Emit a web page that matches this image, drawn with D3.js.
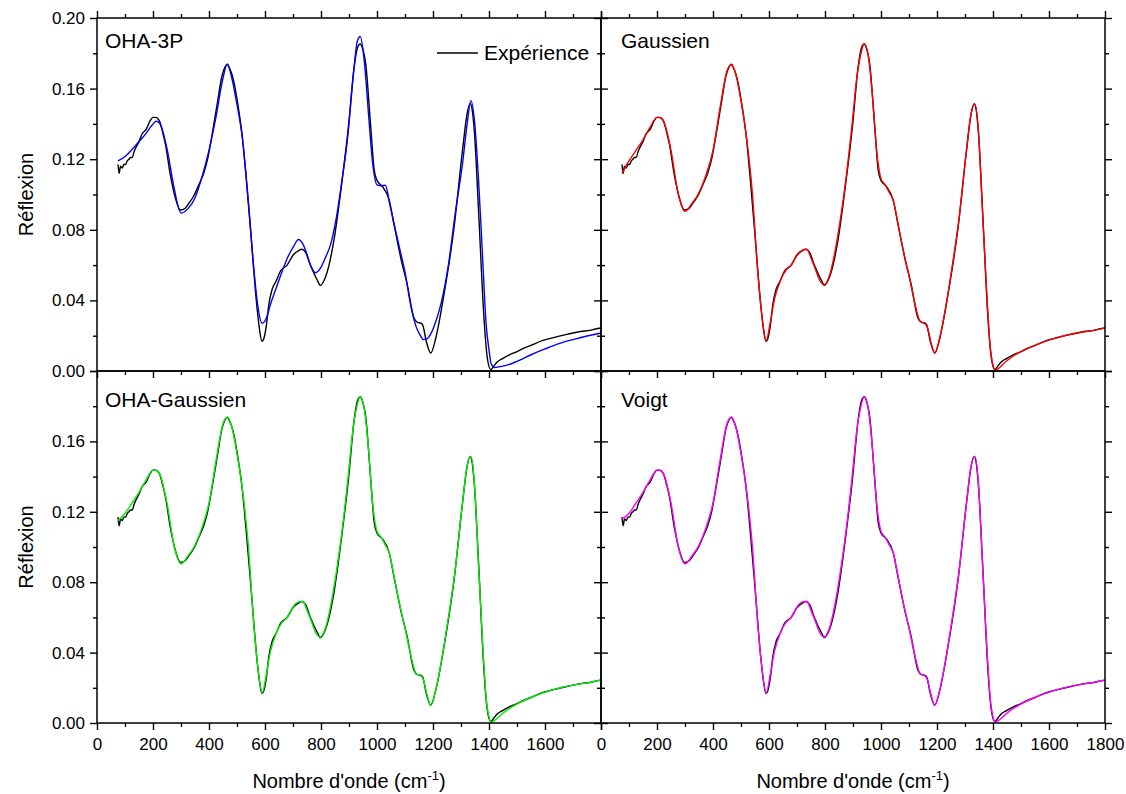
<!DOCTYPE html>
<html>
<head>
<meta charset="utf-8">
<script src="https://cdn.jsdelivr.net/npm/d3@7"></script>
<style>
  body { margin: 0; background: #fff; }
  text { font-family: "Liberation Sans", Arial, sans-serif; fill: #000; }
  .tick line { stroke: #000; stroke-width: 1.4px; }
</style>
</head>
<body>
<div id="chart-area"></div>
<script>
// experimental spectrum (black)
var expWn = [75,79,84,90,96,102,108,114,120,126,132,140,150,160,176,190,200,210,222,235,
  245,262,280,298,315,330,345,365,381,395,410,429,446,458,466,472,480,490,502,518,
  533,550,569,580,589,597,605,614,625,640,655,679,702,718,732,745,762,786,798,810,
  821,845,875,899,918,930,940,948,960,977,990,1000,1019,1043,1061,1085,1108,1132,1145,1155,
  1163,1176,1192,1210,1239,1275,1305,1322,1333,1340,1348,1364,1382,1394,1406,1418,1430,1450,1471,1500,
  1519,1550,1590,1620,1674,1700,1733,1760,1780,1800];
var expR = [0.117,0.112,0.116,0.115,0.117,0.117,0.119,0.120,0.121,0.121,0.124,0.127,0.130,0.134,0.137,0.1418,0.1437,0.1437,0.142,0.135,
  0.128,0.111,0.098,0.0912,0.0922,0.0955,0.099,0.106,0.112,0.120,0.133,0.151,0.167,0.1725,0.1738,0.172,0.169,0.163,0.152,0.134,
  0.109,0.077,0.040,0.024,0.0168,0.019,0.026,0.038,0.046,0.051,0.0565,0.060,0.066,0.068,0.069,0.0672,0.060,0.0517,0.0485,0.051,
  0.0555,0.0730,0.1075,0.1400,0.1717,0.183,0.1853,0.183,0.1736,0.1396,0.114,0.108,0.1046,0.0971,0.0829,0.064,0.0489,0.030,0.0275,0.0272,
  0.0262,0.0168,0.0102,0.0187,0.0432,0.081,0.1245,0.146,0.1515,0.148,0.135,0.0867,0.030,0.0074,0.0008,0.003,0.0052,0.0072,0.0090,0.0110,
  0.0125,0.0145,0.0172,0.0185,0.0206,0.0215,0.0225,0.0230,0.0238,0.0244];

// fitted spectra, common wavenumber grid
var fitWn = [75,100,125,150,175,200,212,225,250,275,
  300,325,350,375,400,425,450,465,480,500,
  520,540,560,575,590,605,620,640,660,680,
  700,720,735,750,765,780,797,815,835,855,
  875,895,915,930,940,955,970,985,1000,1015,
  1030,1045,1060,1080,1100,1120,1140,1155,1165,1178,
  1192,1210,1230,1255,1280,1305,1322,1335,1348,1362,
  1376,1390,1400,1408,1420,1440,1470,1500,1550,1600,
  1650,1700,1750,1800];

var oha3pR = [0.119,0.1215,0.1255,0.130,0.1345,0.140,0.1415,0.140,0.126,0.104,
  0.0895,0.092,0.098,0.110,0.125,0.144,0.166,0.1738,0.167,0.151,
  0.131,0.097,0.058,0.036,0.027,0.030,0.038,0.047,0.056,0.064,
  0.070,0.0745,0.072,0.066,0.059,0.0557,0.058,0.064,0.072,0.087,
  0.108,0.132,0.167,0.187,0.1895,0.175,0.145,0.117,0.1055,0.105,
  0.1052,0.095,0.084,0.070,0.056,0.0376,0.025,0.020,0.0178,0.0182,
  0.021,0.028,0.039,0.060,0.090,0.117,0.140,0.1532,0.142,0.110,
  0.068,0.026,0.012,0.004,0.002,0.0025,0.0036,0.0055,0.0092,0.0125,
  0.0155,0.0178,0.0198,0.0215];

var gaussR = [0.112,0.119,0.125,0.131,0.138,0.1437,0.1435,0.141,0.125,0.101,
  0.0905,0.095,0.101,0.111,0.125,0.149,0.170,0.1735,0.169,0.153,
  0.132,0.102,0.056,0.031,0.0172,0.028,0.041,0.051,0.057,0.060,
  0.066,0.0685,0.069,0.064,0.058,0.0517,0.0489,0.0535,0.067,0.086,
  0.109,0.137,0.168,0.181,0.1855,0.178,0.155,0.124,0.109,0.1055,
  0.101,0.096,0.084,0.068,0.054,0.039,0.028,0.027,0.025,0.0165,
  0.0102,0.0187,0.035,0.060,0.088,0.1245,0.146,0.1512,0.136,0.092,
  0.049,0.014,0.0035,0.0005,0.0015,0.0045,0.0082,0.0110,0.0145,0.0175,
  0.0198,0.0215,0.0228,0.0243];

var ohaGaussR = [0.115,0.119,0.125,0.131,0.138,0.1437,0.1435,0.141,0.125,0.101,
  0.0905,0.095,0.101,0.111,0.125,0.149,0.170,0.1738,0.169,0.153,
  0.132,0.102,0.056,0.031,0.0170,0.028,0.041,0.051,0.057,0.060,
  0.066,0.0688,0.069,0.064,0.058,0.0517,0.0489,0.0535,0.067,0.086,
  0.109,0.137,0.168,0.181,0.1855,0.178,0.155,0.124,0.109,0.1055,
  0.101,0.096,0.084,0.068,0.054,0.039,0.028,0.027,0.025,0.0165,
  0.0100,0.0187,0.035,0.060,0.088,0.1245,0.146,0.1515,0.136,0.092,
  0.049,0.014,0.0035,0.0005,0.0015,0.0042,0.0080,0.0108,0.0145,0.0175,
  0.0198,0.0215,0.0228,0.0243];

var voigtR = [0.116,0.119,0.125,0.131,0.138,0.1437,0.1435,0.141,0.125,0.101,
  0.0905,0.095,0.101,0.111,0.125,0.149,0.170,0.1738,0.169,0.153,
  0.132,0.102,0.056,0.031,0.0170,0.028,0.041,0.051,0.057,0.060,
  0.066,0.0688,0.069,0.064,0.058,0.0517,0.0489,0.0535,0.067,0.086,
  0.109,0.137,0.168,0.181,0.1855,0.178,0.155,0.124,0.109,0.1055,
  0.101,0.096,0.084,0.068,0.054,0.039,0.028,0.027,0.025,0.0165,
  0.0100,0.0187,0.035,0.060,0.088,0.1245,0.146,0.1515,0.136,0.092,
  0.049,0.014,0.0035,0.0005,0.0015,0.0042,0.0080,0.0108,0.0145,0.0175,
  0.0198,0.0215,0.0228,0.0243];

var panelNames = ["OHA-3P", "Gaussien", "OHA-Gaussien", "Voigt"];
var panelFits = [oha3pR, gaussR, ohaGaussR, voigtR];
var panelColors = ["#0000ff", "#ff0000", "#00ee00", "#ff00ff"];

var xMajor = [0,200,400,600,800,1000,1200,1400,1600,1800];
var xMinor = [100,300,500,700,900,1100,1300,1500,1700];
var yMajor = [0,0.04,0.08,0.12,0.16,0.20];
var yMinor = [0.02,0.06,0.10,0.14,0.18];

var cols = [[97,601],[601,1105]];
var rows = [[18,371],[371,723]];

var svg = d3.select("#chart-area").append("svg")
  .attr("width", 1126).attr("height", 794);
svg.append("rect").attr("width", 1126).attr("height", 794).attr("fill", "#fff");

var fmtY = d3.format(".2f");

function drawAxis(g, axisFn, scale, transform, majors, minors, fmt) {
  var big = axisFn(scale).tickValues(majors).tickSize(7).tickSizeOuter(0)
    .tickPadding(axisFn === d3.axisBottom ? 8 : 5)
    .tickFormat(fmt || "");
  var small = axisFn(scale).tickValues(minors).tickSize(4).tickSizeOuter(0).tickFormat("");
  [big, small].forEach(function(a){
    var ax = g.append("g").attr("transform", transform).call(a);
    ax.select(".domain").remove();
    ax.selectAll("text").attr("font-size", "17px")
      .style("font-family", "'Liberation Sans', Arial, sans-serif");
  });
}

var line = d3.line().curve(d3.curveMonotoneX);

panelNames.forEach(function(name, i){
  var c = i % 2, r = Math.floor(i / 2);
  var x0 = cols[c][0], x1 = cols[c][1], y0 = rows[r][0], y1 = rows[r][1];
  var x = d3.scaleLinear().domain([0,1800]).range([x0,x1]);
  var y = d3.scaleLinear().domain([0,0.2]).range([y1,y0]);
  var g = svg.append("g");

  // experiment then fit
  g.append("path")
    .attr("d", line(expWn.map(function(w,k){ return [x(w), y(expR[k])]; })))
    .attr("fill", "none").attr("stroke", "#000").attr("stroke-width", 1.4);
  g.append("path")
    .attr("d", line(fitWn.map(function(w,k){ return [x(w), y(panelFits[i][k])]; })))
    .attr("fill", "none").attr("stroke", panelColors[i]).attr("stroke-width", 1.4);

  // axes
  if (r === 0) drawAxis(g, d3.axisTop, x, "translate(0," + y0 + ")", xMajor, xMinor);
  var xf = null;
  if (r === 1) xf = function(d){ return (c === 0 && d === 1800) ? "" : d; };
  drawAxis(g, d3.axisBottom, x, "translate(0," + y1 + ")", xMajor, xMinor, xf);
  var yf = null;
  if (c === 0) yf = function(d){ return (r === 1 && d > 0.19) ? "" : fmtY(d); };
  drawAxis(g, d3.axisLeft, y, "translate(" + x0 + ",0)", yMajor, yMinor, yf);
  drawAxis(g, d3.axisRight, y, "translate(" + x1 + ",0)", yMajor, yMinor);

  g.append("rect")
    .attr("x", x0).attr("y", y0).attr("width", x1 - x0).attr("height", y1 - y0)
    .attr("fill", "none").attr("stroke", "#000").attr("stroke-width", 1.5);

  g.append("text")
    .attr("x", x0 + (c === 0 ? 8 : 20))
    .attr("y", r === 0 ? y0 + 30 : y0 + 36)
    .attr("font-size", "21px")
    .text(name);
});

// legend
svg.append("line").attr("x1", 437).attr("x2", 478).attr("y1", 53).attr("y2", 53)
  .attr("stroke", "#000").attr("stroke-width", 1.4);
svg.append("text").attr("x", 484).attr("y", 60).attr("font-size", "21px").text("Expérience");

// axis titles
rows.forEach(function(rw){
  svg.append("text")
    .attr("transform", "translate(33," + ((rw[0] + rw[1]) / 2) + ") rotate(-90)")
    .attr("text-anchor", "middle").attr("font-size", "20px")
    .text("Réflexion");
});
cols.forEach(function(cl){
  var t = svg.append("text")
    .attr("x", (cl[0] + cl[1]) / 2).attr("y", 788)
    .attr("text-anchor", "middle").attr("font-size", "20px");
  t.append("tspan").text("Nombre d'onde (cm");
  t.append("tspan").attr("font-size", "13px").attr("dy", -8).text("-1");
  t.append("tspan").attr("dy", 8).text(")");
});
</script>
</body>
</html>
